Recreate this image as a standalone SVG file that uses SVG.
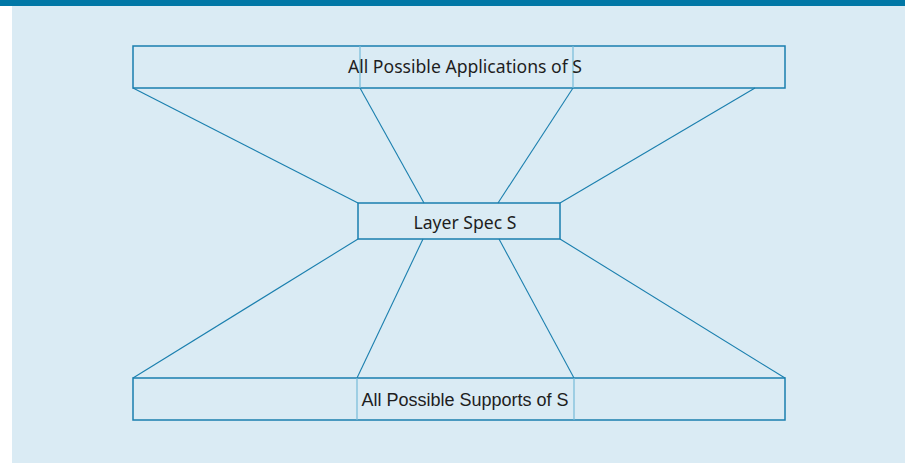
<svg xmlns="http://www.w3.org/2000/svg" width="905" height="463" viewBox="0 0 905 463">
  <style>
    .box { fill: none; stroke: #1a7fae; stroke-width: 1.5; }
    .div { stroke: #76bbd8; stroke-width: 1.2; }
    .edge { stroke: #1a7fae; stroke-width: 1.1; fill: none; }
    .lbl { font-family: "Noto Sans", "Liberation Sans", sans-serif; font-size: 17.6px; fill: #1e1e1e; text-anchor: middle; }
    .lbl2 { font-family: "Liberation Sans", Arial, sans-serif; font-size: 18px; fill: #1e1e1e; text-anchor: middle; }
  </style>
  <rect x="0" y="0" width="905" height="463" fill="#ffffff"/>
  <rect x="12" y="6" width="893" height="457" fill="#daebf4"/>
  <rect x="0" y="0" width="905" height="6" fill="#0077a6"/>

  <g id="connectors">
    <line class="edge" x1="133" y1="88" x2="358" y2="203"/>
    <line class="edge" x1="360" y1="88" x2="424" y2="203"/>
    <line class="edge" x1="573" y1="88" x2="498" y2="203"/>
    <line class="edge" x1="755" y1="88" x2="560" y2="203"/>
    <line class="edge" x1="358" y1="239" x2="133" y2="378"/>
    <line class="edge" x1="423" y1="239" x2="357" y2="378"/>
    <line class="edge" x1="499" y1="239" x2="574" y2="378"/>
    <line class="edge" x1="560" y1="239" x2="785" y2="378"/>
  </g>

  <g id="applications">
    <rect class="box" x="133" y="46" width="652" height="42"/>
    <line class="div" x1="360" y1="46" x2="360" y2="88"/>
    <line class="div" x1="573" y1="46" x2="573" y2="88"/>
    <text class="lbl" x="465" y="73">All Possible Applications of S</text>
  </g>

  <g id="layer-spec">
    <rect class="box" x="358" y="203" width="202" height="36"/>
    <text class="lbl" x="465" y="229">Layer Spec S</text>
  </g>

  <g id="supports">
    <rect class="box" x="133" y="378" width="652" height="42"/>
    <line class="div" x1="357" y1="378" x2="357" y2="420"/>
    <line class="div" x1="574" y1="378" x2="574" y2="420"/>
    <text class="lbl2" x="465" y="406">All Possible Supports of S</text>
  </g>
</svg>
